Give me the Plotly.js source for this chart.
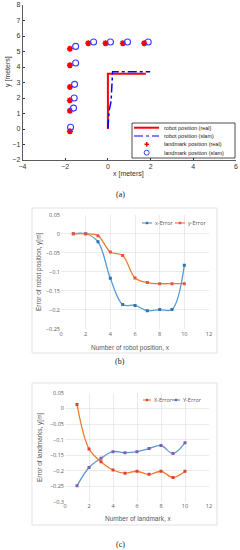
<!DOCTYPE html>
<html><head><meta charset="utf-8">
<script src="https://cdn.plot.ly/plotly-3.0.1.min.js"></script>
<style>html,body{margin:0;padding:0;background:#fff}#c{width:240px;height:550px}</style>
</head><body><div id="c"></div>
<script>
// ---- Panel (a) data ----
const robotRealX = [0, 0, 1.78];
const robotRealY = [0, 3.57, 3.57];
const robotSlamX = [0, 0.06, 0.15, 0.22, 1.98];
const robotSlamY = [0.05, 1.2, 1.8, 3.7, 3.7];
const lmRealX = [-1.78, -1.78, -1.78, -1.78, -1.78, -1.78, -0.92, -0.11, 0.70, 1.70];
const lmRealY = [-0.15, 1.18, 1.85, 2.71, 4.11, 5.18, 5.53, 5.53, 5.53, 5.53];
const lmSlamX = [-1.75, -1.61, -1.58, -1.56, -1.51, -1.51, -0.67, 0.12, 0.92, 1.89];
const lmSlamY = [0.11, 1.35, 2.0, 2.88, 4.26, 5.33, 5.61, 5.61, 5.61, 5.61];
// ---- Panel (b) data ----
const robotIdx = [1, 2, 3, 4, 5, 6, 7, 8, 9, 10];
const robotXErr = [0, 0, -0.021, -0.117, -0.186, -0.188, -0.202, -0.199, -0.199, -0.083];
const robotYErr = [0, 0, -0.005, -0.048, -0.057, -0.116, -0.128, -0.131, -0.131, -0.131];
// ---- Panel (c) data ----
const lmIdx = [1, 2, 3, 4, 5, 6, 7, 8, 9, 10];
const lmXErr = [0.013, -0.13, -0.171, -0.198, -0.208, -0.202, -0.212, -0.202, -0.222, -0.202];
const lmYErr = [-0.249, -0.19, -0.16, -0.139, -0.142, -0.139, -0.129, -0.119, -0.145, -0.11];

const W = 240, H = 550;
const px = x => x / W, py = y => 1 - y / H;
const BLUE = '#5B9BD5', ORANGE = '#ED7D31', PURPLE = '#7E5FB0';

const traces = [
  {x: robotRealX, y: robotRealY, mode: 'lines', line: {color: '#ff0000', width: 2}, xaxis: 'x', yaxis: 'y'},
  {x: robotSlamX, y: robotSlamY, mode: 'lines', line: {color: '#0000ff', width: 1.5, dash: 'dashdot'}, xaxis: 'x', yaxis: 'y'},
  {x: lmRealX, y: lmRealY, mode: 'markers', marker: {symbol: 'asterisk-open', size: 5, color: '#ff0000', line: {color: '#ff0000', width: 1.6}}, xaxis: 'x', yaxis: 'y'},
  {x: lmSlamX, y: lmSlamY, mode: 'markers', marker: {symbol: 'circle-open', size: 6, color: '#3b3bff', line: {width: 1.1}}, xaxis: 'x', yaxis: 'y'},
  {x: robotIdx, y: robotXErr, mode: 'lines+markers', line: {color: BLUE, width: 1.3, shape: 'spline'}, marker: {symbol: 'square', size: 3, color: '#2E75B6'}, xaxis: 'x2', yaxis: 'y2'},
  {x: robotIdx, y: robotYErr, mode: 'lines+markers', line: {color: ORANGE, width: 1.3, shape: 'spline'}, marker: {symbol: 'square', size: 3, color: '#E8553A'}, xaxis: 'x2', yaxis: 'y2'},
  {x: lmIdx, y: lmXErr, mode: 'lines+markers', line: {color: ORANGE, width: 1.3, shape: 'spline'}, marker: {symbol: 'square', size: 3, color: '#E0403A'}, xaxis: 'x3', yaxis: 'y3'},
  {x: lmIdx, y: lmYErr, mode: 'lines+markers', line: {color: BLUE, width: 1.3, shape: 'spline'}, marker: {symbol: 'square', size: 3, color: PURPLE}, xaxis: 'x3', yaxis: 'y3'}
];

const fA = {family: 'Liberation Sans, Arial', size: 7, color: '#333'};
const fB = {family: 'Open Sans, Liberation Sans', size: 5.5, color: '#595959'};
const fT = {family: 'Liberation Sans, Arial', size: 6.5, color: '#595959'};

const gridAx = {showline: false, zeroline: false, showgrid: true, gridcolor: '#e3e3e3', gridwidth: 0.7, ticks: '', tickfont: fB, fixedrange: true};

const shapes = [
  // panel (b)/(c) chart frames
  {type: 'rect', xref: 'paper', yref: 'paper', x0: px(32), x1: px(217), y0: py(353), y1: py(208), line: {color: '#d9d9d9', width: 0.8}},
  {type: 'rect', xref: 'paper', yref: 'paper', x0: px(32), x1: px(217), y0: py(525), y1: py(383), line: {color: '#d9d9d9', width: 0.8}},
  // panel (a) legend box
  {type: 'rect', xref: 'paper', yref: 'paper', x0: px(132), x1: px(235), y0: py(158), y1: py(123), line: {color: '#222', width: 0.8}, fillcolor: '#fff', layer: 'above'},
  {type: 'line', xref: 'paper', yref: 'paper', x0: px(134), x1: px(159), y0: py(127.7), y1: py(127.7), line: {color: '#ff0000', width: 2}, layer: 'above'},
  {type: 'line', xref: 'paper', yref: 'paper', x0: px(134), x1: px(159), y0: py(136), y1: py(136), line: {color: '#0000ff', width: 1.2, dash: 'dashdot'}, layer: 'above'},
  {type: 'line', xref: 'paper', yref: 'paper', x0: px(144.5), x1: px(149), y0: py(144.3), y1: py(144.3), line: {color: '#ff0000', width: 1.5}, layer: 'above'},
  {type: 'line', xref: 'paper', yref: 'paper', x0: px(146.7), x1: px(146.7), y0: py(142), y1: py(146.6), line: {color: '#ff0000', width: 1.5}, layer: 'above'},
  {type: 'circle', xref: 'paper', yref: 'paper', x0: px(144.2), x1: px(149.2), y0: py(155.2), y1: py(150.2), line: {color: '#3b3bff', width: 1}, layer: 'above'},
  // panel (b) legend samples
  {type: 'line', xref: 'paper', yref: 'paper', x0: px(142), x1: px(152), y0: py(223), y1: py(223), line: {color: BLUE, width: 1.2}},
  {type: 'rect', xref: 'paper', yref: 'paper', x0: px(145.8), x1: px(148.2), y0: py(224.2), y1: py(221.8), line: {width: 0}, fillcolor: '#2E75B6'},
  {type: 'line', xref: 'paper', yref: 'paper', x0: px(175), x1: px(185), y0: py(223), y1: py(223), line: {color: ORANGE, width: 1.2}},
  {type: 'rect', xref: 'paper', yref: 'paper', x0: px(178.8), x1: px(181.2), y0: py(224.2), y1: py(221.8), line: {width: 0}, fillcolor: '#E8553A'},
  // panel (c) legend samples
  {type: 'line', xref: 'paper', yref: 'paper', x0: px(143), x1: px(151), y0: py(400), y1: py(400), line: {color: ORANGE, width: 1.2}},
  {type: 'rect', xref: 'paper', yref: 'paper', x0: px(145.8), x1: px(148.2), y0: py(401.2), y1: py(398.8), line: {width: 0}, fillcolor: '#E0403A'},
  {type: 'line', xref: 'paper', yref: 'paper', x0: px(172), x1: px(180), y0: py(400), y1: py(400), line: {color: BLUE, width: 1.2}},
  {type: 'rect', xref: 'paper', yref: 'paper', x0: px(174.8), x1: px(177.2), y0: py(401.2), y1: py(398.8), line: {width: 0}, fillcolor: PURPLE}
];

const ann = (x, y, text, font, opts) => Object.assign({xref: 'paper', yref: 'paper', x: px(x), y: py(y), text: text, showarrow: false, font: font, xanchor: 'center', yanchor: 'middle'}, opts || {});
const fL = {family: 'Liberation Sans, Arial', size: 5.5, color: '#222'};
const annotations = [
  ann(128, 174, 'x [meters]', fA),
  ann(8, 72, 'y [meters]', fA, {textangle: -90}),
  ann(162, 127.7, 'robot position (real)', fL, {xanchor: 'left'}),
  ann(162, 136, 'robot position (slam)', fL, {xanchor: 'left'}),
  ann(162, 144.3, 'landmark position (real)', fL, {xanchor: 'left'}),
  ann(162, 152.7, 'landmark position (slam)', fL, {xanchor: 'left'}),
  ann(120, 195, '(a)', {family: 'Liberation Serif', size: 8, color: '#222'}),
  ann(130, 348, 'Number of robot position, x', fT),
  ann(39, 272, 'Error of robot position, y[m]', fT, {textangle: -90}),
  ann(153, 223, 'x-Error', fB, {xanchor: 'left'}),
  ann(186, 223, 'y-Error', fB, {xanchor: 'left'}),
  ann(120, 361, '(b)', {family: 'Liberation Serif', size: 8, color: '#222'}),
  ann(138, 518, 'Number of landmark, x', fT),
  ann(40, 447, 'Error of landmarks, y[m]', fT, {textangle: -90}),
  ann(152, 400, 'X-Error', fB, {xanchor: 'left'}),
  ann(181, 400, 'Y-Error', fB, {xanchor: 'left'}),
  ann(120, 544, '(c)', {family: 'Liberation Serif', size: 8, color: '#222'})
];

const layout = {
  width: W, height: H, margin: {l: 0, r: 0, t: 0, b: 0},
  paper_bgcolor: '#fff', plot_bgcolor: 'rgba(0,0,0,0)', showlegend: false,
  xaxis: {domain: [px(22.5), px(236)], anchor: 'y', range: [-4, 6], dtick: 2, showline: true, linecolor: '#333', linewidth: 0.8,
          ticks: 'inside', ticklen: 2, tickcolor: '#333', showgrid: false, zeroline: false, tickfont: fA, ticklabelstandoff: 0},
  yaxis: {domain: [py(160), py(5)], anchor: 'x', range: [-2, 8], dtick: 1, showline: true, linecolor: '#333', linewidth: 0.8,
          ticks: 'inside', ticklen: 2, tickcolor: '#333', showgrid: false, zeroline: false, tickfont: fA},
  xaxis2: Object.assign({}, gridAx, {domain: [px(61), px(209)], anchor: 'y2', range: [0, 12], dtick: 2}),
  yaxis2: Object.assign({}, gridAx, {domain: [py(329), py(214.7)], anchor: 'x2', range: [-0.25, 0.05], dtick: 0.05}),
  xaxis3: Object.assign({}, gridAx, {domain: [px(65), px(209)], anchor: 'y3', range: [0, 12], dtick: 2}),
  yaxis3: Object.assign({}, gridAx, {domain: [py(501.7), py(393)], anchor: 'x3', range: [-0.3, 0.05], dtick: 0.05}),
  shapes: shapes, annotations: annotations
};

Plotly.newPlot('c', traces, layout, {staticPlot: true, displayModeBar: false});
</script></body></html>
